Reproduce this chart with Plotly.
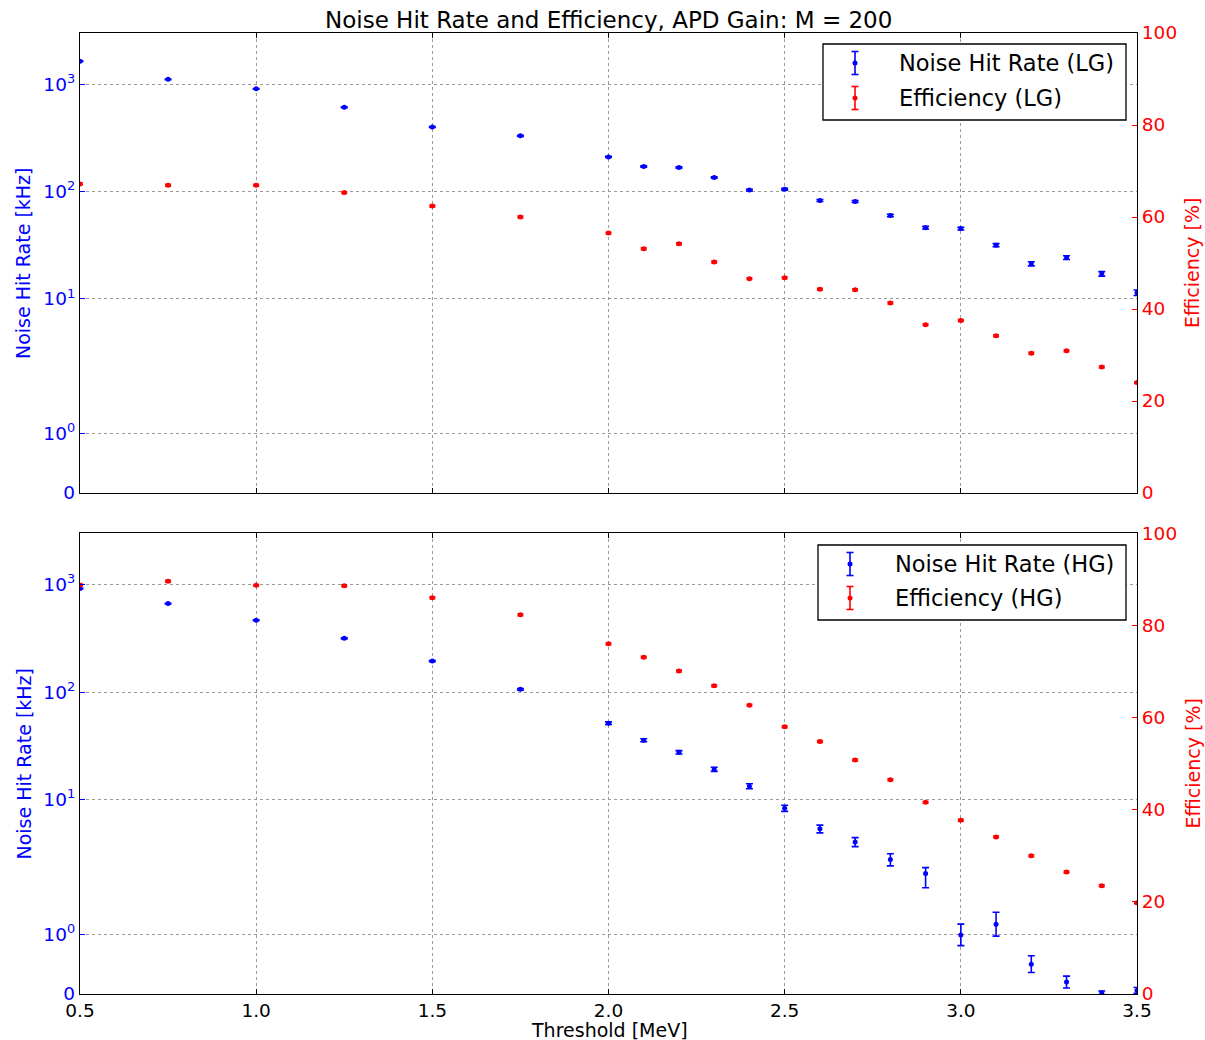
import numpy as np
import plotly.graph_objects as go

# ---------------------------------------------------------------- data
threshold = [0.5, 0.75, 1.0, 1.25, 1.5, 1.75, 2.0, 2.1, 2.2, 2.3, 2.4, 2.5,
             2.6, 2.7, 2.8, 2.9, 3.0, 3.1, 3.2, 3.3, 3.4, 3.5]

# low gain (LG)
noise_lg = [1640, 1110, 905, 610, 400, 330, 210, 171, 167, 135, 103, 105,
            82.5, 80.7, 59.8, 46.0, 45.1, 31.6, 21.2, 24.2, 17.1, 11.4]
noise_lg_err = [8.0, 6.7, 6.0, 4.9, 4.0, 3.6, 2.9, 2.6, 2.6, 2.3, 2.0, 2.0,
                1.8, 1.8, 1.5, 1.35, 1.35, 1.1, 0.92, 0.98, 0.83, 0.68]
eff_lg = [67.2, 66.9, 66.9, 65.3, 62.4, 60.0, 56.5, 53.1, 54.2, 50.2, 46.6, 46.8,
          44.3, 44.2, 41.3, 36.6, 37.5, 34.2, 30.4, 30.9, 27.4, 24.0]
eff_lg_err = [0.2, 0.2, 0.2, 0.2, 0.2, 0.2, 0.2, 0.2, 0.2, 0.2, 0.2, 0.2,
              0.2, 0.2, 0.2, 0.2, 0.2, 0.2, 0.2, 0.2, 0.2, 0.2]

# high gain (HG)
noise_hg = [918, 666, 466, 316, 194, 106, 51.3, 35.6, 27.5, 19.1, 13.3, 8.3,
            5.33, 4.03, 2.77, 2.05, 0.99, 1.17, 0.50, 0.20, 0.02, 0.06]
noise_hg_err = [5.8, 4.9, 4.1, 3.4, 2.6, 2.0, 1.4, 1.15, 1.0, 0.83, 0.7, 0.55,
                0.44, 0.39, 0.36, 0.27, 0.18, 0.20, 0.14, 0.10, 0.03, 0.05]
eff_hg = [88.8, 89.6, 88.7, 88.6, 86.0, 82.3, 76.0, 73.1, 70.1, 66.9, 62.7, 58.0,
          54.8, 50.8, 46.5, 41.6, 37.7, 34.1, 30.0, 26.5, 23.5, 19.8]
eff_hg_err = [0.2, 0.2, 0.2, 0.2, 0.2, 0.2, 0.2, 0.2, 0.2, 0.2, 0.2, 0.2,
              0.2, 0.2, 0.2, 0.2, 0.2, 0.2, 0.2, 0.2, 0.2, 0.2]

rate_ticks = [0, 1, 10, 100, 1000]
rate_ticktext = ["0", "10<sup>0</sup>", "10<sup>1</sup>", "10<sup>2</sup>", "10<sup>3</sup>"]
rate_max = 3000
eff_ticks = [0, 20, 40, 60, 80, 100]
x_ticks = [0.5, 1.0, 1.5, 2.0, 2.5, 3.0, 3.5]

# ---------------------------------------------------------------- symlog scale
LINTHRESH = 2.0
LINSCALE = 1.0 / (1.0 - 1.0 / 10.0)


def symlog(v):
    v = np.asarray(v, dtype=float)
    a = np.abs(v)
    out = np.where(a <= LINTHRESH, a * LINSCALE,
                   LINTHRESH * (LINSCALE + np.log10(np.maximum(a, 1e-12) / LINTHRESH)))
    return np.sign(v) * out


def symlog_err(v, e):
    v = np.asarray(v, float)
    e = np.asarray(e, float)
    return symlog(v + e) - symlog(v), symlog(v) - symlog(v - e)


# ---------------------------------------------------------------- geometry
W, H = 1205, 1040
ML, MR, MT, MB = 80, 68, 33, 46
FONT = "DejaVu Sans"
BLUE = "#0000ff"
RED = "#ff0000"


def px_x(px):
    return (px - ML) / (W - ML - MR)


def px_y(py):
    return (H - MB - py) / (H - MT - MB)


top_domain = [px_y(493), 1.0]
bot_domain = [0.0, px_y(533.3)]

fig = go.Figure()


def add_series(x, v, e, color, xa, ya, log, cap):
    if log:
        y = symlog(v)
        up, dn = symlog_err(v, e)
    else:
        y = np.asarray(v, float)
        up = dn = np.asarray(e, float)
    fig.add_trace(go.Scatter(
        x=x, y=y, mode="markers", xaxis=xa, yaxis=ya, showlegend=False,
        marker=dict(color=color, size=5, line=dict(width=0)),
        error_y=dict(type="data", symmetric=False, array=up, arrayminus=dn,
                     color=color, thickness=1.6, width=cap),
    ))


# top panel (LG)
add_series(threshold, noise_lg, noise_lg_err, BLUE, "x", "y", True, 3.5)
add_series(threshold, eff_lg, eff_lg_err, RED, "x", "y2", False, 3)
# bottom panel (HG)
add_series(threshold, noise_hg, noise_hg_err, BLUE, "x2", "y3", True, 3.5)
add_series(threshold, eff_hg, eff_hg_err, RED, "x2", "y4", False, 3)

tickfont = dict(family=FONT, size=18.5)
grid = dict(showgrid=True, gridcolor="#9a9a9a", griddash="dot", gridwidth=1)


def xaxis_cfg(domain_anchor, labels):
    return dict(range=[0.5, 3.5], tickvals=x_ticks, ticktext=[f"{t:.1f}" for t in x_ticks],
                showticklabels=labels, ticks="inside", ticklen=5, tickcolor="black",
                showline=True, linecolor="black", linewidth=1.3, mirror="ticks",
                zeroline=False, anchor=domain_anchor,
                tickfont=dict(tickfont, color="black"), **grid)


def rate_axis(domain):
    return dict(domain=domain, range=[0, float(symlog(rate_max))],
                tickvals=list(symlog(rate_ticks)), ticktext=rate_ticktext,
                ticks="inside", ticklen=5, tickcolor=BLUE,
                showline=True, linecolor="black", linewidth=1.3,
                zeroline=False, tickfont=dict(tickfont, color=BLUE), **grid)


def eff_axis(overlay, anchor):
    return dict(range=[0, 100], tickvals=eff_ticks, overlaying=overlay, side="right",
                anchor=anchor, ticks="inside", ticklen=5, tickcolor=RED,
                showline=True, linecolor="black", linewidth=1.3, showgrid=False,
                zeroline=False, tickfont=dict(tickfont, color=RED))


fig.update_layout(
    width=W, height=H,
    margin=dict(l=ML, r=MR, t=MT, b=MB, pad=0),
    paper_bgcolor="white", plot_bgcolor="white",
    font=dict(family=FONT, color="black"),
    showlegend=False,
    xaxis=xaxis_cfg("y", False),
    xaxis2=xaxis_cfg("y3", True),
    yaxis=dict(rate_axis(top_domain), anchor="x"),
    yaxis2=eff_axis("y", "x"),
    yaxis3=dict(rate_axis(bot_domain), anchor="x2"),
    yaxis4=eff_axis("y3", "x2"),
)

annotations = []
shapes = []

# titles and axis labels
annotations.append(dict(text="Noise Hit Rate and Efficiency, APD Gain: M = 200",
                        x=px_x(608.5), y=px_y(20), xref="paper", yref="paper",
                        showarrow=False, xanchor="center", yanchor="middle",
                        font=dict(family=FONT, size=23, color="black")))
annotations.append(dict(text="Threshold [MeV]", x=px_x(609), y=px_y(1030),
                        xref="paper", yref="paper", showarrow=False,
                        xanchor="center", yanchor="middle",
                        font=dict(family=FONT, size=19, color="black")))
for yc in (263, 763.5):
    annotations.append(dict(text="Noise Hit Rate [kHz]", x=px_x(23), y=px_y(yc),
                            xref="paper", yref="paper", showarrow=False, textangle=-90,
                            xanchor="center", yanchor="middle",
                            font=dict(family=FONT, size=19, color=BLUE)))
    annotations.append(dict(text="Efficiency [%]", x=px_x(1192), y=px_y(yc),
                            xref="paper", yref="paper", showarrow=False, textangle=-90,
                            xanchor="center", yanchor="middle",
                            font=dict(family=FONT, size=19, color=RED)))

# legends drawn with error-bar glyphs
legends = [
    dict(box=(823, 44, 1126, 120), glyph_x=855, text_x=897,
         entries=[("Noise Hit Rate (LG)", BLUE, 63), ("Efficiency (LG)", RED, 98)]),
    dict(box=(818, 545, 1126, 620), glyph_x=850, text_x=893,
         entries=[("Noise Hit Rate (HG)", BLUE, 564), ("Efficiency (HG)", RED, 598)]),
]
for lg in legends:
    x0, y0, x1, y1 = lg["box"]
    shapes.append(dict(type="rect", xref="paper", yref="paper",
                       x0=px_x(x0), x1=px_x(x1), y0=px_y(y1), y1=px_y(y0),
                       line=dict(color="black", width=1.3), fillcolor="white", layer="above"))
    gx = lg["glyph_x"]
    for label, color, yc in lg["entries"]:
        ln = dict(color=color, width=1.6)
        shapes.append(dict(type="line", xref="paper", yref="paper", layer="above",
                           x0=px_x(gx), x1=px_x(gx), y0=px_y(yc + 11.5), y1=px_y(yc - 11.5), line=ln))
        for cy in (yc - 11.5, yc + 11.5):
            shapes.append(dict(type="line", xref="paper", yref="paper", layer="above",
                               x0=px_x(gx - 3.5), x1=px_x(gx + 3.5), y0=px_y(cy), y1=px_y(cy), line=ln))
        shapes.append(dict(type="circle", xref="paper", yref="paper", layer="above",
                           x0=px_x(gx - 2.5), x1=px_x(gx + 2.5), y0=px_y(yc + 2.5), y1=px_y(yc - 2.5),
                           fillcolor=color, line=dict(width=0)))
        annotations.append(dict(text=label, x=px_x(lg["text_x"]), y=px_y(yc),
                                xref="paper", yref="paper", showarrow=False,
                                xanchor="left", yanchor="middle",
                                font=dict(family=FONT, size=22.5, color="black")))

fig.update_layout(annotations=annotations, shapes=shapes)
fig.write_html("out.html")
